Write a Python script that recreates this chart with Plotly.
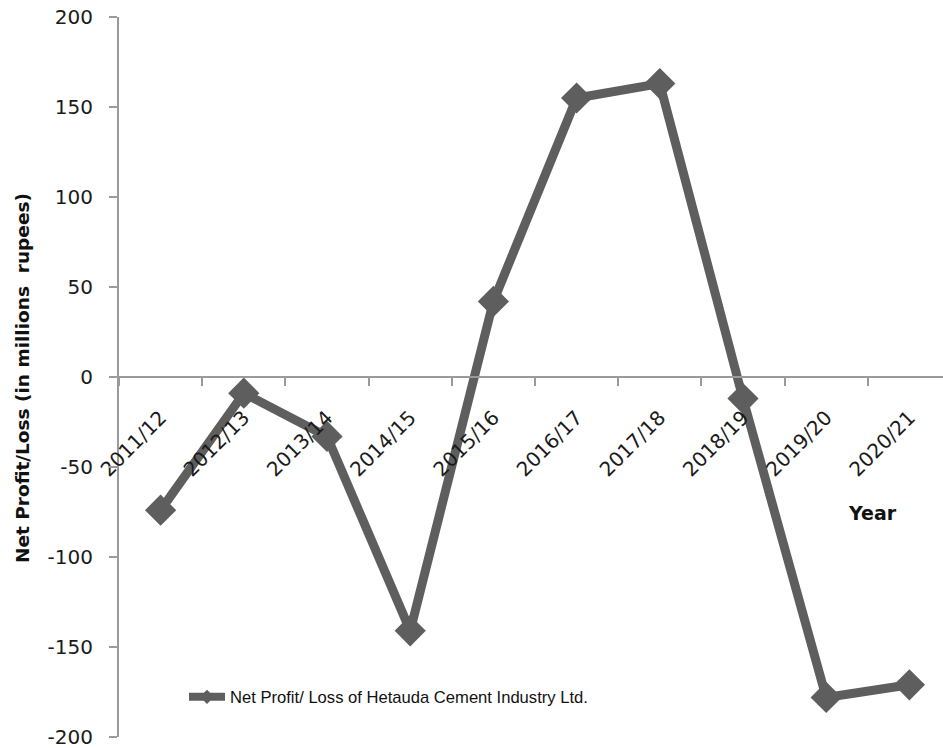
import plotly.graph_objects as go

# Fiscal years and net profit/loss (millions of rupees)
years = ["2011/12", "2012/13", "2013/14", "2014/15", "2015/16",
         "2016/17", "2017/18", "2018/19", "2019/20", "2020/21"]
net_profit = [-74, -9, -33, -141, 42, 155, 163, -12, -178, -171]

series_name = "Net Profit/ Loss of Hetauda Cement Industry Ltd."
y_ticks = [-200, -150, -100, -50, 0, 50, 100, 150, 200]
y_tick_text = [str(v) for v in y_ticks]  # plain hyphen for negatives

line_color = "#5e5e5e"
axis_color = "#9a9a9a"
tick_font = dict(family="DejaVu Sans", size=20, color="#1a1a1a")

# plot area in pixels
L, T, W, H = 119, 17, 824, 720

fig = go.Figure()
fig.add_trace(go.Scatter(
    x=years, y=net_profit, name=series_name, showlegend=False,
    mode="lines+markers",
    line=dict(color=line_color, width=9),
    marker=dict(symbol="diamond", size=24, color=line_color),
))
# legend entry with a slimmer marker
fig.add_trace(go.Scatter(
    x=[None], y=[None], name=series_name, showlegend=True,
    mode="lines+markers",
    line=dict(color=line_color, width=8),
    marker=dict(symbol="diamond", size=11, color=line_color),
))

fig.update_layout(
    width=943, height=748,
    margin=dict(l=L, r=943 - L - W, t=T, b=748 - T - H),
    paper_bgcolor="white", plot_bgcolor="white",
    showlegend=True,
    legend=dict(x=(184 - L) / W, y=(T + H - 697) / H,
                xanchor="left", yanchor="middle",
                bgcolor="rgba(0,0,0,0)", itemwidth=36,
                font=dict(family="Liberation Sans", size=16.6, color="#111")),
    xaxis=dict(
        type="category", categoryorder="array", categoryarray=years,
        range=[-0.5, 9.404], anchor="free", position=0.5,
        showline=True, linecolor=axis_color, linewidth=2,
        ticks="outside", tickson="boundaries", ticklen=8,
        tickcolor=axis_color, tickwidth=2,
        tickangle=-45, tickfont=tick_font, ticklabelstandoff=20,
        showgrid=False, zeroline=False, automargin=False,
    ),
    yaxis=dict(
        range=[-200, 200], tickvals=y_ticks, ticktext=y_tick_text,
        showline=True, linecolor=axis_color, linewidth=2,
        ticks="outside", ticklen=8, tickcolor=axis_color, tickwidth=2,
        tickfont=tick_font, ticklabelstandoff=12,
        ticklabeloverflow="allow",
        showgrid=False, zeroline=False, automargin=False,
    ),
)

# y-axis title
fig.add_annotation(
    text="<b>Net Profit/Loss (in millions  rupees)</b>",
    xref="paper", yref="paper", x=(22 - L) / W, y=(T + H - 378) / H,
    textangle=-90, showarrow=False, xanchor="center", yanchor="middle",
    font=dict(family="DejaVu Sans", size=18.5, color="#111"),
)

# x-axis title
fig.add_annotation(
    text="<b>Year</b>", xref="paper", yref="paper",
    x=(872 - L) / W, y=(T + H - 513) / H,
    xanchor="center", yanchor="middle", showarrow=False,
    font=dict(family="DejaVu Sans", size=19, color="#111"),
)

fig.write_html("out.html")
